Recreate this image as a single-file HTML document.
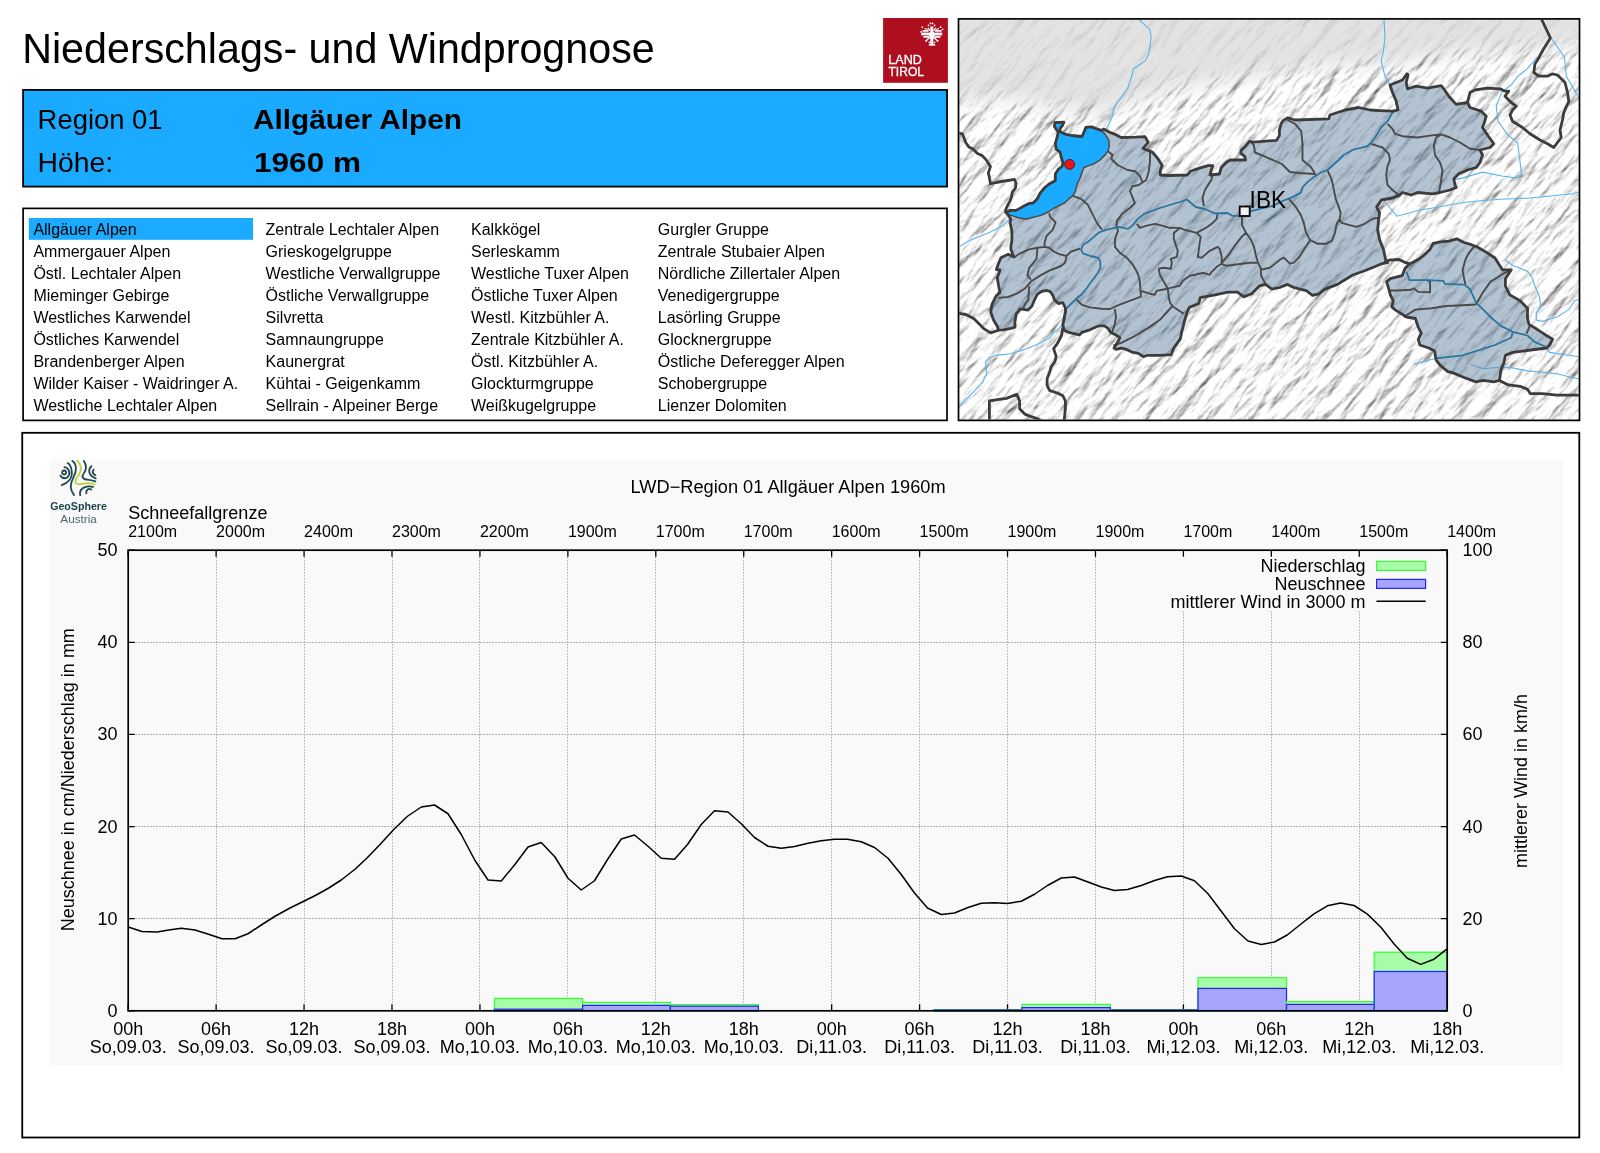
<!DOCTYPE html>
<html><head><meta charset="utf-8"><title>Niederschlags- und Windprognose</title>
<style>
html,body{margin:0;padding:0;background:#fff;width:1600px;height:1153px;overflow:hidden}
svg{display:block;position:absolute;left:0;top:0;will-change:transform}
text{font-family:"Liberation Sans",sans-serif}
</style></head><body>
<svg width="1600" height="1153" viewBox="0 0 1600 1153">
<rect width="1600" height="1153" fill="#fff"/>
<text x="22.2" y="62.6" font-family="Liberation Sans, sans-serif" font-size="42.5" textLength="632.5" lengthAdjust="spacingAndGlyphs">Niederschlags- und Windprognose</text>
<rect x="23.1" y="89.9" width="923.9" height="96.7" fill="#1aaaff" stroke="#000" stroke-width="1.8"/>
<g font-family="Liberation Sans, sans-serif" font-size="28.4" fill="#000"><text x="37.6" y="128.7" textLength="125" lengthAdjust="spacingAndGlyphs">Region 01</text><text x="37.6" y="171.6" textLength="75.5" lengthAdjust="spacingAndGlyphs">Höhe:</text><text x="253" y="128.8" font-weight="bold" textLength="209" lengthAdjust="spacingAndGlyphs">Allgäuer Alpen</text><text x="254" y="171.8" font-weight="bold" textLength="107" lengthAdjust="spacingAndGlyphs">1960 m</text></g>
<rect x="23.1" y="208.4" width="923.9" height="212" fill="#fff" stroke="#000" stroke-width="1.7"/>
<rect x="28.8" y="218" width="224.2" height="21.8" fill="#1aaaff"/>
<g font-family="Liberation Sans, sans-serif" font-size="16" fill="#000"><text x="33.4" y="234.8">Allgäuer Alpen</text><text x="33.4" y="256.8">Ammergauer Alpen</text><text x="33.4" y="278.8">Östl. Lechtaler Alpen</text><text x="33.4" y="300.8">Mieminger Gebirge</text><text x="33.4" y="322.8">Westliches Karwendel</text><text x="33.4" y="344.8">Östliches Karwendel</text><text x="33.4" y="366.8">Brandenberger Alpen</text><text x="33.4" y="388.8">Wilder Kaiser - Waidringer A.</text><text x="33.4" y="410.8">Westliche Lechtaler Alpen</text><text x="265.6" y="234.8">Zentrale Lechtaler Alpen</text><text x="265.6" y="256.8">Grieskogelgruppe</text><text x="265.6" y="278.8">Westliche Verwallgruppe</text><text x="265.6" y="300.8">Östliche Verwallgruppe</text><text x="265.6" y="322.8">Silvretta</text><text x="265.6" y="344.8">Samnaungruppe</text><text x="265.6" y="366.8">Kaunergrat</text><text x="265.6" y="388.8">Kühtai - Geigenkamm</text><text x="265.6" y="410.8">Sellrain - Alpeiner Berge</text><text x="471.0" y="234.8">Kalkkögel</text><text x="471.0" y="256.8">Serleskamm</text><text x="471.0" y="278.8">Westliche Tuxer Alpen</text><text x="471.0" y="300.8">Östliche Tuxer Alpen</text><text x="471.0" y="322.8">Westl. Kitzbühler A.</text><text x="471.0" y="344.8">Zentrale Kitzbühler A.</text><text x="471.0" y="366.8">Östl. Kitzbühler A.</text><text x="471.0" y="388.8">Glockturmgruppe</text><text x="471.0" y="410.8">Weißkugelgruppe</text><text x="657.8" y="234.8">Gurgler Gruppe</text><text x="657.8" y="256.8">Zentrale Stubaier Alpen</text><text x="657.8" y="278.8">Nördliche Zillertaler Alpen</text><text x="657.8" y="300.8">Venedigergruppe</text><text x="657.8" y="322.8">Lasörling Gruppe</text><text x="657.8" y="344.8">Glocknergruppe</text><text x="657.8" y="366.8">Östliche Deferegger Alpen</text><text x="657.8" y="388.8">Schobergruppe</text><text x="657.8" y="410.8">Lienzer Dolomiten</text></g>
<rect x="883.1" y="18" width="64.8" height="64.8" fill="#ae0f1f"/>
<g font-family="Liberation Sans, sans-serif" font-size="12" fill="#fff" stroke="#fff" stroke-width="0.3"><text x="888.3" y="63.9" textLength="33.5" lengthAdjust="spacingAndGlyphs">LAND</text><text x="888.5" y="76.2" textLength="35.5" lengthAdjust="spacingAndGlyphs">TIROL</text></g>
<g transform="translate(918,20)" stroke="#fff" fill="none" stroke-linecap="butt"><path d="M3.2 14H24.2" stroke-width="2.8"/><ellipse cx="13.8" cy="15.5" rx="2.6" ry="4" fill="#fff" stroke="none"/><path d="M4.5 10.8H10.5M17 10.8H23.5M5.5 16.8H11M16.5 16.8H22.5" stroke-width="1.8"/><path d="M13.8 6.5V24.4" stroke-width="3"/><path d="M10.8 24.9H17.2" stroke-width="1.6"/><path d="M11.5 17.5L7.5 21.5M16 17.5L20 21.5M10 7.8L12 11M17.6 7.8L15.6 11M6.5 8.5L9.5 9.5M21 8.5L18 9.5" stroke-width="1.3"/></g>
<g fill="#fff" transform="translate(918,20)"><circle cx="12.5" cy="3.4" r="0.85"/><circle cx="14.6" cy="3.4" r="0.85"/><circle cx="10.5" cy="5.4" r="0.85"/><circle cx="16.6" cy="5.4" r="0.85"/><circle cx="8.3" cy="20.6" r="0.85"/><circle cx="11.4" cy="22.4" r="0.85"/><circle cx="16.5" cy="22.4" r="0.85"/><circle cx="19.6" cy="20.6" r="0.85"/><circle cx="4.3" cy="7.2" r="0.85"/><circle cx="22.6" cy="7.2" r="0.85"/><circle cx="24.6" cy="9.3" r="0.85"/><circle cx="3" cy="11.8" r="0.85"/></g>
<defs><clipPath id="mc"><rect x="959.3" y="19.7" width="619.4" height="399.9"/></clipPath><filter id="hs"><feTurbulence type="fractalNoise" baseFrequency="0.025 0.09" numOctaves="5" seed="7" result="n"/><feDiffuseLighting in="n" surfaceScale="4.5" diffuseConstant="1.2" lighting-color="#ffffff"><feDistantLight azimuth="300" elevation="52"/></feDiffuseLighting></filter><filter id="bl" x="-10%" y="-10%" width="120%" height="120%"><feGaussianBlur stdDeviation="10"/></filter><mask id="mm" maskUnits="userSpaceOnUse" x="958" y="18" width="622" height="403"><path d="M940.0 104.0 L1000.0 98.0 L1050.0 106.0 L1100.0 114.0 L1140.0 100.0 L1180.0 88.0 L1220.0 82.0 L1260.0 76.0 L1300.0 69.0 L1340.0 64.0 L1380.0 66.0 L1420.0 59.0 L1460.0 54.0 L1500.0 52.0 L1540.0 49.0 L1600.0 44.0 L1600.0 440.0 L940.0 440.0Z" fill="#fff" filter="url(#bl)"/></mask></defs>
<g clip-path="url(#mc)">
<rect x="958" y="18" width="622" height="403" fill="#dddddd"/>
<g opacity="0.18"><g transform="translate(1269,220) rotate(-50)"><rect x="-420" y="-420" width="840" height="840" filter="url(#hs)"/></g></g>
<g mask="url(#mm)"><g transform="translate(1269,220) rotate(-50)"><rect x="-420" y="-420" width="840" height="840" filter="url(#hs)"/></g></g>
<path d="M1139.4 20.0 L1150.1 29.7 L1151.1 37.5 L1149.1 53.1 L1145.2 60.9 L1139.4 64.8 L1133.5 68.7 L1131.6 76.5 L1127.7 88.2 L1117.9 101.9 L1114.0 107.7 L1112.1 117.5 L1106.2 129.2" fill="none" stroke="#58b4ec" stroke-width="1.1"/>
<path d="M1384.0 19.0 L1385.0 37.5 L1383.1 53.1 L1381.1 60.9 L1385.0 76.5 L1390.0 85.0" fill="none" stroke="#58b4ec" stroke-width="1.1"/>
<path d="M1550.8 37.5 L1564.4 57.0 L1566.4 76.5 L1572.2 86.3 L1580.0 99.9" fill="none" stroke="#58b4ec" stroke-width="1.1"/>
<path d="M1537.1 57.0 L1527.4 68.7 L1517.6 76.5 L1511.8 84.3 L1502.0 92.1 L1496.2 105.8 L1498.1 121.4 L1507.9 135.0 L1517.6 142.8 L1519.6 158.4 L1521.5 174.0 L1515.7 177.9 L1502.0 176.0 L1482.5 172.1 L1463.0 177.9 L1453.3 179.9" fill="none" stroke="#58b4ec" stroke-width="1.1"/>
<path d="M1383.5 200.5 L1390.0 208.0 L1397.0 216.2 L1420.0 210.0 L1437.7 207.2 L1460.0 203.0 L1482.8 200.5 L1505.0 199.0 L1527.9 198.2 L1550.0 196.0 L1573.0 193.7 L1580.0 191.4" fill="none" stroke="#58b4ec" stroke-width="1.1"/>
<path d="M1062.8 323.7 L1058.9 328.9 L1053.6 332.9 L1049.7 338.1 L1036.6 344.7 L1023.5 349.9 L1010.4 353.8 L997.3 355.1 L989.4 357.8 L985.5 361.7 L986.8 373.5 L982.9 381.3 L975.0 390.5 L965.9 399.7 L958.0 407.5" fill="none" stroke="#58b4ec" stroke-width="1.1"/>
<path d="M1010.7 217.9 L1002.9 225.7 L987.3 233.5 L971.7 239.4 L960.0 246.0" fill="none" stroke="#58b4ec" stroke-width="1.1"/>
<path d="M1545.2 346.5 L1549.6 352.4 L1579.1 356.8" fill="none" stroke="#58b4ec" stroke-width="1.1"/>
<path d="M1436.0 358.3 L1413.9 364.2" fill="none" stroke="#58b4ec" stroke-width="1.1"/>
<path d="M1505.4 260.2 L1512.7 265.4 L1520.1 268.3 L1527.5 271.3 L1531.9 277.2 L1534.9 286.0 L1539.3 296.4 L1540.8 306.7 L1536.3 312.6 L1536.3 320.0 L1542.2 321.4 L1557.0 317.0 L1568.8 309.6 L1574.7 300.8 L1580.0 299.3" fill="none" stroke="#58b4ec" stroke-width="1.1"/>
<path d="M1470.0 364.2 L1483.2 368.6 L1500.9 367.2 L1512.7 367.9 L1527.5 370.9 L1542.2 372.3 L1557.0 373.8 L1571.8 377.5 L1580.0 379.0" fill="none" stroke="#58b4ec" stroke-width="1.1"/>
<path d="M1005.7 212.3 L1010.5 210.4 L1016.2 210.4 L1022.9 206.6 L1028.6 203.7 L1033.4 202.8 L1037.2 199.0 L1040.1 193.2 L1044.8 187.5 L1049.6 183.7 L1055.3 180.8 L1055.3 174.1 L1058.2 169.4 L1062.0 166.5 L1063.0 162.7 L1061.1 157.0 L1060.1 152.2 L1056.3 149.3 L1055.3 143.6 L1057.2 136.9 L1058.2 132.2 L1054.4 126.4 L1054.9 122.6 L1063.9 122.2 L1062.5 125.5 L1060.1 128.4 L1060.1 131.7 L1064.9 134.1 L1071.5 135.5 L1082.0 136.5 L1083.9 132.2 L1085.9 127.4 L1091.6 126.9 L1095.4 128.4 L1101.1 130.3 L1104.0 129.3 L1109.7 132.2 L1114.5 134.1 L1121.1 137.5 L1135.7 137.1 L1145.0 136.6 L1148.2 142.3 L1143.0 148.5 L1150.0 151.1 L1152.8 152.5 L1157.5 158.1 L1162.2 165.6 L1160.3 170.3 L1160.3 175.0 L1168.7 175.5 L1187.5 175.0 L1190.3 171.3 L1198.7 168.4 L1208.1 165.6 L1212.8 165.6 L1210.9 171.3 L1210.0 175.0 L1219.4 174.0 L1221.3 167.5 L1226.9 161.9 L1230.6 160.0 L1245.6 160.0 L1244.7 156.3 L1240.9 153.4 L1240.9 150.6 L1245.6 145.9 L1249.4 141.3 L1253.1 142.2 L1276.6 140.3 L1279.4 135.6 L1279.4 130.0 L1281.3 123.4 L1283.1 120.6 L1287.8 117.8 L1295.0 120.0 L1328.8 118.8 L1330.0 115.0 L1345.0 110.0 L1358.8 107.5 L1370.0 110.0 L1380.0 110.6 L1392.5 111.2 L1398.1 110.0 L1396.2 101.2 L1392.5 92.5 L1390.0 85.0 L1402.5 80.0 L1406.9 73.8 L1408.1 75.0 L1406.2 82.5 L1407.5 88.8 L1416.2 86.2 L1427.5 88.1 L1441.2 85.6 L1443.8 88.8 L1448.8 96.2 L1456.2 104.4 L1467.5 102.5 L1470.0 107.5 L1481.2 111.2 L1486.2 116.2 L1484.4 122.5 L1482.5 127.5 L1487.5 135.0 L1493.8 143.8 L1490.0 147.5 L1480.0 150.0 L1482.5 155.0 L1480.0 162.5 L1476.2 167.5 L1467.5 170.0 L1458.8 173.8 L1453.8 178.8 L1455.0 185.0 L1456.2 187.5 L1450.0 190.0 L1440.0 192.5 L1432.5 193.8 L1417.5 192.5 L1411.2 195.0 L1402.5 192.5 L1398.8 195.6 L1392.0 198.0 L1384.0 199.5 L1381.6 199.9 L1376.6 206.9 L1379.6 212.9 L1378.6 219.8 L1377.6 229.8 L1379.6 239.8 L1383.6 249.8 L1385.6 259.7 L1387.6 262.7 L1381.6 263.7 L1374.6 266.7 L1364.7 270.7 L1352.7 275.0 L1337.5 284.4 L1325.0 289.1 L1318.8 293.8 L1312.5 295.3 L1306.2 290.6 L1300.0 289.1 L1293.8 287.5 L1287.5 284.4 L1279.7 287.5 L1271.9 289.1 L1265.6 284.4 L1259.4 285.9 L1251.6 293.8 L1243.8 296.9 L1237.5 292.2 L1228.1 292.2 L1212.5 295.3 L1200.3 297.6 L1198.7 303.5 L1189.5 307.4 L1186.9 312.7 L1184.3 321.9 L1181.6 332.4 L1180.3 338.9 L1173.8 348.1 L1171.1 354.7 L1160.6 355.3 L1147.5 355.3 L1143.6 356.7 L1138.3 353.4 L1131.8 352.1 L1126.5 349.4 L1121.3 348.1 L1116.0 349.4 L1114.0 348.1 L1118.0 341.6 L1119.9 337.6 L1116.0 335.0 L1110.7 332.4 L1108.1 328.4 L1104.2 325.8 L1098.9 325.8 L1089.8 329.8 L1081.9 332.4 L1079.3 335.0 L1074.0 333.7 L1068.8 332.4 L1064.1 330.2 L1062.8 324.5 L1065.5 311.4 L1065.4 308.0 L1062.8 302.7 L1058.3 303.5 L1054.3 299.6 L1053.0 295.6 L1050.4 291.7 L1046.4 290.4 L1041.2 291.7 L1037.3 294.3 L1034.6 299.6 L1032.0 306.1 L1028.1 310.1 L1020.2 308.8 L1016.2 314.0 L1014.9 321.9 L1014.9 327.1 L1011.0 328.4 L1003.1 329.8 L998.6 330.2 L997.3 326.3 L993.4 319.8 L990.7 311.9 L992.1 304.1 L996.0 296.2 L999.9 292.3 L998.6 285.7 L997.3 277.9 L999.9 270.0 L996.4 269.7 L998.2 264.2 L1000.9 257.8 L1008.2 254.2 L1013.7 256.9 L1010.9 249.6 L1010.9 246.0 L1011.9 240.5 L1011.9 231.4 L1010.0 222.3 L1011.0 219.6 L1007.6 214.2Z M1386.6 281.6 L1390.3 278.7 L1402.1 275.7 L1405.1 268.3 L1409.5 263.9 L1418.3 259.5 L1424.2 255.1 L1430.1 249.2 L1433.1 243.3 L1440.5 241.8 L1449.3 241.1 L1456.7 238.8 L1464.1 242.5 L1471.4 244.7 L1477.3 247.0 L1486.2 252.1 L1495.0 258.0 L1502.4 269.8 L1511.3 269.8 L1505.4 278.7 L1505.4 286.0 L1509.8 294.9 L1520.1 300.8 L1527.5 308.2 L1527.5 318.5 L1529.0 324.4 L1536.3 328.8 L1545.2 334.7 L1552.6 339.1 L1549.6 345.0 L1546.7 348.0 L1534.9 349.5 L1524.5 350.9 L1512.7 352.4 L1505.4 355.4 L1503.9 362.7 L1500.9 370.1 L1499.5 380.4 L1493.6 381.9 L1483.2 380.4 L1475.9 381.9 L1464.1 377.5 L1453.7 373.1 L1447.8 371.6 L1440.5 365.7 L1436.0 359.8 L1434.6 350.9 L1428.7 348.0 L1419.8 345.0 L1418.3 339.1 L1421.3 333.2 L1418.3 327.3 L1415.4 318.5 L1406.5 317.0 L1402.1 314.1 L1394.7 309.6 L1391.8 306.7 L1393.3 300.8 L1390.3 294.9 L1388.8 289.0Z" fill="#6a87a6" fill-opacity="0.5"/>
<path d="M1054.9 122.6 L1063.9 122.2 L1062.5 125.5 L1060.1 128.4 L1060.1 131.7 L1064.9 134.1 L1071.5 135.5 L1082.0 136.5 L1083.9 132.2 L1085.9 127.4 L1091.6 126.9 L1095.4 128.4 L1101.1 130.3 L1104.9 134.1 L1108.7 139.8 L1109.2 146.5 L1107.8 151.2 L1104.9 155.1 L1100.2 159.8 L1094.4 163.6 L1088.7 165.6 L1083.9 167.5 L1082.0 172.2 L1080.1 178.0 L1077.3 183.7 L1075.4 191.3 L1072.5 196.1 L1068.7 198.9 L1064.9 202.8 L1059.1 205.6 L1053.4 208.5 L1047.7 212.3 L1041.0 215.2 L1034.3 217.1 L1026.7 219.0 L1019.1 218.0 L1013.4 216.1 L1007.6 214.2 L1005.7 212.3 L1010.5 210.4 L1016.2 210.4 L1022.9 206.6 L1028.6 203.7 L1033.4 202.8 L1037.2 199.0 L1040.1 193.2 L1044.8 187.5 L1049.6 183.7 L1055.3 180.8 L1055.3 174.1 L1058.2 169.4 L1062.0 166.5 L1063.0 162.7 L1061.1 157.0 L1060.1 152.2 L1056.3 149.3 L1055.3 143.6 L1057.2 136.9 L1058.2 132.2 L1054.4 126.4Z" fill="#1aaaff"/>
<path d="M1072.9 195.8 L1081.1 198.9 L1087.8 204.7 L1091.6 212.3 L1095.4 219.9 L1098.3 225.0 L1102.0 229.6 M1049.2 213.2 L1050.1 216.9 L1055.6 222.3 L1052.8 229.6 L1046.5 236.0 L1044.6 242.4 L1044.6 246.9 M1013.7 257.8 L1020.1 253.3 L1028.3 249.6 L1037.4 247.8 L1044.6 246.9 L1049.2 247.8 L1053.8 251.5 L1059.2 254.2 L1066.5 256.0 L1071.1 251.5 L1080.2 248.7 M1037.4 248.7 L1036.5 258.8 L1029.2 267.9 L1027.3 275.2 L1031.0 279.7 M1066.5 256.9 L1064.7 263.3 L1061.0 266.0 L1049.2 270.6 L1039.2 276.1 L1031.0 281.5 L1024.6 288.8 L1017.3 293.4 L1008.2 297.0 L998.2 297.9 M1029.2 286.1 L1028.3 300.0 L1025.4 303.5 L1022.8 308.8 M1108.1 151.2 L1112.5 155.0 L1111.2 158.8 L1117.5 165.0 L1127.5 170.0 L1135.0 171.2 L1140.0 176.2 L1142.5 182.5 L1138.8 185.0 L1132.5 186.2 L1130.0 191.2 L1132.5 197.5 L1134.9 203.0 L1129.9 208.0 L1121.9 214.0 L1117.0 220.9 L1116.5 225.9 L1118.0 230.9 L1115.0 238.9 L1115.0 246.9 L1119.9 252.8 L1126.9 257.8 L1132.9 264.8 L1137.9 273.8 L1139.9 281.8 L1140.4 289.7 L1140.9 296.7 L1132.9 299.7 L1124.9 302.7 L1117.0 305.7 L1110.0 309.0 L1101.6 308.8 L1089.8 307.4 L1081.9 304.8 L1076.6 299.6 M1142.5 182.5 L1146.2 180.0 L1148.8 171.2 L1150.0 161.2 L1150.0 151.2 M1114.7 308.8 L1116.0 316.6 L1114.7 324.5 L1112.1 332.4 M1113.4 345.5 L1121.2 342.9 L1134.4 336.3 L1147.5 328.4 L1160.6 319.2 L1167.0 312.0 L1172.5 306.2 M1139.9 290.7 L1149.9 293.7 L1154.9 294.7 L1156.8 290.7 L1167.8 288.7 L1168.8 297.5 L1170.0 302.5 L1172.5 306.2 L1178.0 310.0 L1183.8 313.8 M1167.8 288.7 L1163.8 281.8 L1159.8 274.8 L1158.8 268.8 L1163.8 267.8 L1170.8 268.8 L1171.8 262.8 L1170.8 258.8 L1176.8 256.8 L1177.8 250.8 L1175.8 244.9 L1173.8 238.9 L1173.8 232.9 L1179.8 227.9 M1136.9 223.9 L1139.9 227.9 L1145.9 225.9 L1154.9 223.9 L1162.8 225.9 L1169.8 227.9 L1179.8 227.9 L1184.8 229.9 L1196.7 232.9 L1205.7 227.9 L1212.7 222.9 L1216.7 218.9 L1217.7 213.0 M1196.7 232.9 L1200.7 236.9 L1199.7 242.9 L1198.7 250.8 L1197.7 256.8 L1201.7 257.8 L1209.7 250.8 L1217.7 246.9 L1219.7 248.9 L1221.7 256.8 L1221.7 263.8 M1221.7 263.8 L1216.7 266.8 L1211.7 271.8 L1209.7 274.8 L1203.7 272.8 L1194.7 274.8 L1189.8 275.8 L1182.8 280.8 L1179.8 285.8 L1174.8 286.8 L1167.8 288.7 M1221.7 263.8 L1226.7 265.8 L1234.6 264.8 L1241.6 263.8 L1250.0 262.8 L1257.0 262.7 M1221.7 262.8 L1228.7 254.8 L1234.6 245.9 L1241.6 236.9 L1246.0 232.8 M1242.0 216.8 L1242.0 224.8 L1246.0 232.8 L1251.0 239.8 L1254.0 246.8 L1256.0 255.7 L1258.0 262.7 L1260.9 268.7 L1260.9 275.0 L1265.6 284.4 M1203.8 206.2 L1202.5 197.5 L1205.0 190.0 L1211.2 180.0 L1212.5 175.0 M1260.9 269.7 L1269.9 267.7 L1279.9 259.7 L1283.9 257.7 L1289.9 263.7 L1293.9 262.7 L1298.8 257.7 L1303.8 249.8 L1309.8 240.8 M1288.9 198.9 L1295.8 206.9 L1300.8 214.9 L1303.8 222.8 L1305.8 231.8 L1309.8 239.8 L1317.8 243.8 L1325.8 243.8 L1331.8 240.8 L1334.7 233.8 L1336.7 223.8 L1339.7 218.8 L1340.7 212.9 L1338.7 206.9 L1335.7 198.9 L1333.7 188.9 L1331.8 179.9 L1327.8 171.0 M1339.7 219.8 L1341.7 222.8 L1348.7 224.8 L1356.7 226.8 L1364.7 223.8 L1372.6 218.8 L1379.6 217.8 M1250.0 141.2 L1253.8 145.0 L1255.0 152.5 L1263.8 156.2 L1272.9 160.0 L1281.9 164.0 L1289.9 172.0 L1299.8 173.0 L1314.8 174.0 L1316.2 175.0 M1287.5 120.0 L1295.0 123.8 L1301.2 131.2 L1302.5 143.8 L1302.5 160.0 L1310.8 167.0 L1314.8 173.0 M1371.2 143.8 L1382.5 147.5 L1388.8 153.8 L1390.0 160.0 L1387.5 166.2 L1386.2 175.0 L1387.5 185.0 L1392.5 190.0 L1398.8 195.0 M1387.5 123.8 L1392.5 128.8 L1395.0 133.8 L1402.5 136.2 L1417.5 137.5 L1430.0 135.6 L1441.2 134.4 L1450.0 137.5 L1460.0 142.5 L1470.0 148.8 L1480.0 150.0 M1441.2 134.4 L1436.2 137.5 L1433.8 145.0 L1435.0 155.0 L1440.0 162.5 L1442.5 170.0 L1441.2 180.0 L1438.8 193.8 M1474.4 246.2 L1468.5 253.6 L1465.5 259.5 L1462.6 269.8 L1464.1 278.7 L1465.5 284.6 M1389.0 290.5 L1397.7 290.5 L1411.0 289.8 L1413.9 288.3 L1418.3 291.9 L1430.1 292.3 L1430.1 281.6 L1427.2 280.1 M1403.6 317.0 L1415.4 309.6 L1431.6 308.2 L1446.3 306.0 L1462.6 305.2 L1475.9 304.5 M1475.9 304.5 L1483.2 292.0 L1490.6 281.6 L1502.4 274.2 L1511.3 269.8 M1526.6 333.5 L1528.0 330.0 L1530.4 324.4" fill="none" stroke="#4a4a4a" stroke-width="1.9" stroke-linejoin="round"/>
<path d="M1064.1 322.4 L1066.1 308.8 L1071.4 303.5 L1076.6 298.3 L1081.9 294.3 L1087.1 287.8 L1089.8 283.8 L1093.7 278.6 L1097.6 273.3 L1100.3 268.1 L1100.3 261.5 L1098.4 257.8 L1090.2 256.0 L1082.9 253.3 L1081.1 249.6 L1082.9 245.1 L1088.4 241.5 L1093.8 236.9 L1099.3 232.3 L1106.0 229.9 L1118.9 226.9 L1127.9 228.9 L1132.9 224.9 L1137.9 218.9 L1143.9 213.9 L1151.9 211.0 L1159.8 208.0 L1169.8 205.0 L1179.8 202.0 L1186.8 199.5 L1189.8 202.0 L1195.7 207.0 L1204.7 209.0 L1211.7 212.0 L1214.7 213.5 L1227.7 213.0 L1232.6 215.9 L1238.6 215.9 L1250.0 211.4 L1260.0 208.9 L1272.9 205.9 L1282.9 200.9 L1292.9 196.9 L1300.8 192.9 L1302.8 186.9 L1307.8 181.9 L1313.8 177.0 L1321.8 172.0 L1327.8 170.0 L1331.8 166.0 L1338.7 160.0 L1343.8 155.0 L1352.5 150.0 L1367.5 146.2 L1371.2 142.5 L1375.0 137.5 L1381.2 127.5 L1387.5 121.2 L1392.5 112.5 L1397.5 110.0 L1396.2 101.2 L1392.5 92.5 L1390.0 85.0" fill="none" stroke="#2b74a0" stroke-width="1.8" stroke-linejoin="round"/>
<path d="M1406.5 272.0 L1409.5 280.1 L1427.2 280.1 L1443.4 280.9 L1444.9 283.8 L1464.1 284.6 L1470.0 289.0 L1475.9 302.3 L1483.2 309.6 L1492.1 318.5 L1500.9 325.9 L1512.7 331.8 L1527.5 335.5 L1534.9 342.1 L1545.2 346.5" fill="none" stroke="#2b74a0" stroke-width="1.8" stroke-linejoin="round"/>
<path d="M1512.7 331.8 L1511.3 337.7 L1495.0 345.0 L1462.6 355.4 L1436.0 358.3" fill="none" stroke="#2b74a0" stroke-width="1.8" stroke-linejoin="round"/>
<path d="M1054.9 122.6 L1063.9 122.2 L1062.5 125.5 L1060.1 128.4 L1060.1 131.7 L1064.9 134.1 L1071.5 135.5 L1082.0 136.5 L1083.9 132.2 L1085.9 127.4 L1091.6 126.9 L1095.4 128.4 L1101.1 130.3 L1104.9 134.1 L1108.7 139.8 L1109.2 146.5 L1107.8 151.2 L1104.9 155.1 L1100.2 159.8 L1094.4 163.6 L1088.7 165.6 L1083.9 167.5 L1082.0 172.2 L1080.1 178.0 L1077.3 183.7 L1075.4 191.3 L1072.5 196.1 L1068.7 198.9 L1064.9 202.8 L1059.1 205.6 L1053.4 208.5 L1047.7 212.3 L1041.0 215.2 L1034.3 217.1 L1026.7 219.0 L1019.1 218.0 L1013.4 216.1 L1007.6 214.2 L1005.7 212.3 L1010.5 210.4 L1016.2 210.4 L1022.9 206.6 L1028.6 203.7 L1033.4 202.8 L1037.2 199.0 L1040.1 193.2 L1044.8 187.5 L1049.6 183.7 L1055.3 180.8 L1055.3 174.1 L1058.2 169.4 L1062.0 166.5 L1063.0 162.7 L1061.1 157.0 L1060.1 152.2 L1056.3 149.3 L1055.3 143.6 L1057.2 136.9 L1058.2 132.2 L1054.4 126.4Z" fill="none" stroke="#4a4a4a" stroke-width="1.5" stroke-linejoin="round"/>
<path d="M958.0 133.0 L962.3 133.8 L964.0 138.0 L966.0 143.0 L968.8 146.9 L973.0 149.0 L977.5 153.4 L982.0 155.5 L986.2 159.9 L990.5 166.4 L988.4 172.9 L989.5 178.0 L990.5 183.7 L996.0 182.5 L1001.4 181.5 L1008.0 180.5 L1014.4 179.4 L1016.0 183.0 L1015.5 188.0 L1012.2 192.4 L1011.5 197.0 L1010.0 201.1 L1007.5 205.5 L1005.7 209.7 L1005.7 212.3 M958.0 313.2 L965.9 314.5 L973.7 318.5 L979.0 323.7 L984.2 328.9 L990.7 332.9 L998.6 330.2 M1062.8 327.6 L1061.5 335.5 L1057.5 343.3 L1053.6 348.6 L1056.2 356.4 L1054.9 361.7 L1051.0 366.9 L1049.7 372.2 L1047.1 378.7 L1047.1 385.3 L1049.7 390.5 L1057.5 393.1 L1062.8 395.7 L1065.4 401.0 L1065.4 408.8 L1064.1 421.0 M989.4 421.0 L989.4 401.0 L997.3 399.7 L1006.5 398.4 L1013.0 395.7 L1016.9 394.4 L1019.6 401.0 L1019.6 408.8 L1024.8 414.1 L1031.3 416.7 L1039.2 419.3 L1041.8 421.0 M1467.5 102.5 L1470.0 92.5 L1475.0 90.0 L1487.5 88.1 L1500.0 88.8 L1505.0 91.2 L1508.8 91.2 L1505.0 96.2 L1511.2 102.5 L1516.2 106.2 L1512.5 110.0 L1510.0 115.0 L1512.5 121.2 L1522.5 127.5 L1530.0 133.8 L1540.0 140.0 L1547.5 143.8 L1553.8 147.5 L1557.5 142.5 L1561.2 137.5 L1560.0 130.0 L1562.5 120.0 L1563.8 112.5 L1568.8 101.2 L1567.5 92.5 L1565.0 82.5 L1557.5 75.0 L1552.5 73.8 L1547.5 76.2 L1538.8 76.2 L1533.8 72.5 L1535.0 63.8 L1537.5 60.0 L1543.0 50.0 L1550.4 38.0 L1541.4 19.0 M1499.5 380.4 L1508.3 384.9 L1520.1 386.3 L1527.5 389.3 L1530.4 393.7 L1542.2 393.7 L1557.0 395.2 L1580.0 395.2 M1384.4 262.5 L1388.8 260.2 L1399.2 259.5 L1405.1 262.4 L1409.5 263.9" fill="none" stroke="#3c3c3c" stroke-width="2.8" stroke-linejoin="round"/>
<path d="M1005.7 212.3 L1010.5 210.4 L1016.2 210.4 L1022.9 206.6 L1028.6 203.7 L1033.4 202.8 L1037.2 199.0 L1040.1 193.2 L1044.8 187.5 L1049.6 183.7 L1055.3 180.8 L1055.3 174.1 L1058.2 169.4 L1062.0 166.5 L1063.0 162.7 L1061.1 157.0 L1060.1 152.2 L1056.3 149.3 L1055.3 143.6 L1057.2 136.9 L1058.2 132.2 L1054.4 126.4 L1054.9 122.6 L1063.9 122.2 L1062.5 125.5 L1060.1 128.4 L1060.1 131.7 L1064.9 134.1 L1071.5 135.5 L1082.0 136.5 L1083.9 132.2 L1085.9 127.4 L1091.6 126.9 L1095.4 128.4 L1101.1 130.3 L1104.0 129.3 L1109.7 132.2 L1114.5 134.1 L1121.1 137.5 L1135.7 137.1 L1145.0 136.6 L1148.2 142.3 L1143.0 148.5 L1150.0 151.1 L1152.8 152.5 L1157.5 158.1 L1162.2 165.6 L1160.3 170.3 L1160.3 175.0 L1168.7 175.5 L1187.5 175.0 L1190.3 171.3 L1198.7 168.4 L1208.1 165.6 L1212.8 165.6 L1210.9 171.3 L1210.0 175.0 L1219.4 174.0 L1221.3 167.5 L1226.9 161.9 L1230.6 160.0 L1245.6 160.0 L1244.7 156.3 L1240.9 153.4 L1240.9 150.6 L1245.6 145.9 L1249.4 141.3 L1253.1 142.2 L1276.6 140.3 L1279.4 135.6 L1279.4 130.0 L1281.3 123.4 L1283.1 120.6 L1287.8 117.8 L1295.0 120.0 L1328.8 118.8 L1330.0 115.0 L1345.0 110.0 L1358.8 107.5 L1370.0 110.0 L1380.0 110.6 L1392.5 111.2 L1398.1 110.0 L1396.2 101.2 L1392.5 92.5 L1390.0 85.0 L1402.5 80.0 L1406.9 73.8 L1408.1 75.0 L1406.2 82.5 L1407.5 88.8 L1416.2 86.2 L1427.5 88.1 L1441.2 85.6 L1443.8 88.8 L1448.8 96.2 L1456.2 104.4 L1467.5 102.5 L1470.0 107.5 L1481.2 111.2 L1486.2 116.2 L1484.4 122.5 L1482.5 127.5 L1487.5 135.0 L1493.8 143.8 L1490.0 147.5 L1480.0 150.0 L1482.5 155.0 L1480.0 162.5 L1476.2 167.5 L1467.5 170.0 L1458.8 173.8 L1453.8 178.8 L1455.0 185.0 L1456.2 187.5 L1450.0 190.0 L1440.0 192.5 L1432.5 193.8 L1417.5 192.5 L1411.2 195.0 L1402.5 192.5 L1398.8 195.6 L1392.0 198.0 L1384.0 199.5 L1381.6 199.9 L1376.6 206.9 L1379.6 212.9 L1378.6 219.8 L1377.6 229.8 L1379.6 239.8 L1383.6 249.8 L1385.6 259.7 L1387.6 262.7 L1381.6 263.7 L1374.6 266.7 L1364.7 270.7 L1352.7 275.0 L1337.5 284.4 L1325.0 289.1 L1318.8 293.8 L1312.5 295.3 L1306.2 290.6 L1300.0 289.1 L1293.8 287.5 L1287.5 284.4 L1279.7 287.5 L1271.9 289.1 L1265.6 284.4 L1259.4 285.9 L1251.6 293.8 L1243.8 296.9 L1237.5 292.2 L1228.1 292.2 L1212.5 295.3 L1200.3 297.6 L1198.7 303.5 L1189.5 307.4 L1186.9 312.7 L1184.3 321.9 L1181.6 332.4 L1180.3 338.9 L1173.8 348.1 L1171.1 354.7 L1160.6 355.3 L1147.5 355.3 L1143.6 356.7 L1138.3 353.4 L1131.8 352.1 L1126.5 349.4 L1121.3 348.1 L1116.0 349.4 L1114.0 348.1 L1118.0 341.6 L1119.9 337.6 L1116.0 335.0 L1110.7 332.4 L1108.1 328.4 L1104.2 325.8 L1098.9 325.8 L1089.8 329.8 L1081.9 332.4 L1079.3 335.0 L1074.0 333.7 L1068.8 332.4 L1064.1 330.2 L1062.8 324.5 L1065.5 311.4 L1065.4 308.0 L1062.8 302.7 L1058.3 303.5 L1054.3 299.6 L1053.0 295.6 L1050.4 291.7 L1046.4 290.4 L1041.2 291.7 L1037.3 294.3 L1034.6 299.6 L1032.0 306.1 L1028.1 310.1 L1020.2 308.8 L1016.2 314.0 L1014.9 321.9 L1014.9 327.1 L1011.0 328.4 L1003.1 329.8 L998.6 330.2 L997.3 326.3 L993.4 319.8 L990.7 311.9 L992.1 304.1 L996.0 296.2 L999.9 292.3 L998.6 285.7 L997.3 277.9 L999.9 270.0 L996.4 269.7 L998.2 264.2 L1000.9 257.8 L1008.2 254.2 L1013.7 256.9 L1010.9 249.6 L1010.9 246.0 L1011.9 240.5 L1011.9 231.4 L1010.0 222.3 L1011.0 219.6 L1007.6 214.2Z M1386.6 281.6 L1390.3 278.7 L1402.1 275.7 L1405.1 268.3 L1409.5 263.9 L1418.3 259.5 L1424.2 255.1 L1430.1 249.2 L1433.1 243.3 L1440.5 241.8 L1449.3 241.1 L1456.7 238.8 L1464.1 242.5 L1471.4 244.7 L1477.3 247.0 L1486.2 252.1 L1495.0 258.0 L1502.4 269.8 L1511.3 269.8 L1505.4 278.7 L1505.4 286.0 L1509.8 294.9 L1520.1 300.8 L1527.5 308.2 L1527.5 318.5 L1529.0 324.4 L1536.3 328.8 L1545.2 334.7 L1552.6 339.1 L1549.6 345.0 L1546.7 348.0 L1534.9 349.5 L1524.5 350.9 L1512.7 352.4 L1505.4 355.4 L1503.9 362.7 L1500.9 370.1 L1499.5 380.4 L1493.6 381.9 L1483.2 380.4 L1475.9 381.9 L1464.1 377.5 L1453.7 373.1 L1447.8 371.6 L1440.5 365.7 L1436.0 359.8 L1434.6 350.9 L1428.7 348.0 L1419.8 345.0 L1418.3 339.1 L1421.3 333.2 L1418.3 327.3 L1415.4 318.5 L1406.5 317.0 L1402.1 314.1 L1394.7 309.6 L1391.8 306.7 L1393.3 300.8 L1390.3 294.9 L1388.8 289.0Z" fill="none" stroke="#3c3c3c" stroke-width="2.8" stroke-linejoin="round"/>
<circle cx="1069.7" cy="164.4" r="5.0" fill="#e8141c" stroke="#3a1010" stroke-width="0.8"/>
<rect x="1239.7" y="206.5" width="10.0" height="9.5" fill="#f0f0f0" stroke="#000" stroke-width="1.8"/>
<text x="1249.6" y="207.5" font-family="Liberation Sans, sans-serif" font-size="23.5" fill="#000" textLength="36.5" lengthAdjust="spacingAndGlyphs">IBK</text>
</g>
<rect x="958.5" y="18.9" width="621" height="401.5" fill="none" stroke="#000" stroke-width="1.7"/>
<rect x="22.25" y="432.8" width="1557.05" height="704.7" fill="#fff" stroke="#000" stroke-width="1.8"/>
<rect x="50.1" y="460.1" width="1512.9" height="605.9" fill="#f9f9f9"/>
<path d="M216.50 557.2V1003.8M304.50 557.2V1003.8M392.50 557.2V1003.8M479.50 557.2V1003.8M567.50 557.2V1003.8M655.50 557.2V1003.8M743.50 557.2V1003.8M831.50 557.2V1003.8M919.50 557.2V1003.8M1007.50 557.2V1003.8M1095.50 557.2V1003.8M1183.50 557.2V1003.8M1271.50 557.2V1003.8M1359.50 557.2V1003.8" stroke="#a2a2a2" stroke-width="1" stroke-dasharray="1.3 1.7" fill="none"/>
<path d="M135.2 918.50H1440.2M135.2 826.50H1440.2M135.2 734.50H1440.2M135.2 642.50H1440.2" stroke="#a8a8a8" stroke-width="1" stroke-dasharray="1.8 1.2" fill="none"/>
<path d="M128.20 1010.8v-6.5M128.20 550.2v6.5M216.13 1010.8v-6.5M216.13 550.2v6.5M304.07 1010.8v-6.5M304.07 550.2v6.5M392.00 1010.8v-6.5M392.00 550.2v6.5M479.93 1010.8v-6.5M479.93 550.2v6.5M567.87 1010.8v-6.5M567.87 550.2v6.5M655.80 1010.8v-6.5M655.80 550.2v6.5M743.73 1010.8v-6.5M743.73 550.2v6.5M831.67 1010.8v-6.5M831.67 550.2v6.5M919.60 1010.8v-6.5M919.60 550.2v6.5M1007.53 1010.8v-6.5M1007.53 550.2v6.5M1095.47 1010.8v-6.5M1095.47 550.2v6.5M1183.40 1010.8v-6.5M1183.40 550.2v6.5M1271.33 1010.8v-6.5M1271.33 550.2v6.5M1359.27 1010.8v-6.5M1359.27 550.2v6.5M1447.20 1010.8v-6.5M1447.20 550.2v6.5M128.2 1010.80h6.5M1447.2 1010.80h-6.5M128.2 918.68h6.5M1447.2 918.68h-6.5M128.2 826.56h6.5M1447.2 826.56h-6.5M128.2 734.44h6.5M1447.2 734.44h-6.5M128.2 642.32h6.5M1447.2 642.32h-6.5M128.2 550.20h6.5M1447.2 550.20h-6.5" stroke="#000" stroke-width="1.3" fill="none"/>
<rect x="494.4" y="998.4" width="88.2" height="12.4" fill="#a8fca8" stroke="#33ff33" stroke-width="1.2"/>
<rect x="494.4" y="1009.2" width="88.2" height="1.6" fill="#a6a6fc" stroke="#2222ff" stroke-width="1.2"/>
<rect x="582.6" y="1002.4" width="87.8" height="8.4" fill="#a8fca8" stroke="#33ff33" stroke-width="1.2"/>
<rect x="582.6" y="1005.4" width="87.8" height="5.4" fill="#a6a6fc" stroke="#2222ff" stroke-width="1.2"/>
<rect x="670.4" y="1004.6" width="88.0" height="6.2" fill="#a8fca8" stroke="#33ff33" stroke-width="1.2"/>
<rect x="670.4" y="1006.2" width="88.0" height="4.6" fill="#a6a6fc" stroke="#2222ff" stroke-width="1.2"/>
<rect x="934.0" y="1009.6" width="88.0" height="1.2" fill="#a8fca8" stroke="#33ff33" stroke-width="1.2"/>
<rect x="934.0" y="1010.0" width="88.0" height="0.8" fill="#a6a6fc" stroke="#2222ff" stroke-width="1.2"/>
<rect x="1022.0" y="1004.4" width="88.4" height="6.4" fill="#a8fca8" stroke="#33ff33" stroke-width="1.2"/>
<rect x="1022.0" y="1007.6" width="88.4" height="3.2" fill="#a6a6fc" stroke="#2222ff" stroke-width="1.2"/>
<rect x="1110.4" y="1009.6" width="87.6" height="1.2" fill="#a8fca8" stroke="#33ff33" stroke-width="1.2"/>
<rect x="1110.4" y="1010.0" width="87.6" height="0.8" fill="#a6a6fc" stroke="#2222ff" stroke-width="1.2"/>
<rect x="1198.0" y="977.7" width="88.5" height="33.1" fill="#a8fca8" stroke="#33ff33" stroke-width="1.2"/>
<rect x="1198.0" y="988.4" width="88.5" height="22.4" fill="#a6a6fc" stroke="#2222ff" stroke-width="1.2"/>
<rect x="1286.5" y="1001.6" width="87.7" height="9.2" fill="#a8fca8" stroke="#33ff33" stroke-width="1.2"/>
<rect x="1286.5" y="1004.4" width="87.7" height="6.4" fill="#a6a6fc" stroke="#2222ff" stroke-width="1.2"/>
<rect x="1374.2" y="952.2" width="73.0" height="58.6" fill="#a8fca8" stroke="#33ff33" stroke-width="1.2"/>
<rect x="1374.2" y="971.5" width="73.0" height="39.3" fill="#a6a6fc" stroke="#2222ff" stroke-width="1.2"/>
<polyline points="128.25,927.00 142.00,931.50 157.00,932.00 168.75,930.00 181.25,928.25 195.00,930.00 208.50,934.30 222.00,938.75 235.00,938.75 248.00,933.75 261.25,925.00 275.00,916.25 290.00,908.00 303.75,901.25 316.25,895.00 328.75,888.00 341.25,880.00 355.00,869.25 367.50,857.50 380.00,844.50 393.75,829.50 407.50,816.25 421.25,807.00 434.50,805.00 448.00,813.75 461.25,834.50 475.00,860.50 488.00,880.00 501.25,881.00 514.50,865.00 528.00,847.00 541.25,842.50 555.00,857.00 568.00,878.25 581.25,890.00 594.50,880.75 607.50,859.50 621.25,839.00 634.50,835.00 648.00,846.25 661.25,858.25 674.50,859.25 687.50,844.50 701.25,824.50 714.50,810.75 728.00,812.00 741.25,823.75 754.50,837.50 768.00,846.25 781.25,848.25 794.50,846.50 808.00,843.25 821.25,840.75 834.50,839.25 847.50,839.25 861.25,841.75 874.50,847.50 888.00,858.25 901.25,874.50 914.50,893.00 927.50,908.00 941.25,914.50 954.50,913.00 968.00,907.50 981.25,903.25 994.50,902.75 1007.50,903.50 1021.25,901.25 1034.50,894.25 1047.50,885.50 1061.25,878.00 1074.50,877.00 1088.00,882.00 1101.25,887.00 1114.50,890.50 1127.50,889.50 1141.25,885.50 1154.50,880.50 1167.50,876.75 1181.25,876.00 1194.50,880.75 1208.00,893.75 1221.25,911.25 1234.50,928.75 1248.00,941.00 1261.25,944.50 1274.50,942.00 1287.20,935.00 1300.40,924.50 1313.60,914.10 1327.40,905.80 1340.60,903.00 1354.10,905.50 1367.40,914.10 1380.90,927.30 1394.10,944.00 1407.30,958.30 1420.70,964.40 1434.00,959.20 1447.10,948.80" fill="none" stroke="#000" stroke-width="1.5" stroke-linejoin="round"/>
<rect x="128.2" y="550.2" width="1319.0" height="460.6" fill="none" stroke="#000" stroke-width="1.7"/>
<rect x="1166" y="557" width="275" height="53.3" fill="#f9f9f9"/>
<rect x="1376.6" y="561.4" width="49" height="9" fill="#a8fca8" stroke="#33ff33" stroke-width="1.2"/>
<rect x="1376.6" y="579.4" width="49" height="9" fill="#a6a6fc" stroke="#2222ff" stroke-width="1.2"/>
<path d="M1376.5 601.3H1425.7" stroke="#000" stroke-width="1.5"/>
<g font-family="Liberation Sans, sans-serif" font-size="18" fill="#000"><text x="1365.5" y="572.3" text-anchor="end">Niederschlag</text><text x="1365.5" y="589.9" text-anchor="end">Neuschnee</text><text x="1365.5" y="607.6" text-anchor="end">mittlerer Wind in 3000 m</text><text x="630.6" y="492.9" textLength="315" lengthAdjust="spacingAndGlyphs">LWD&#8722;Region 01 Allgäuer Alpen 1960m</text><text x="128.3" y="518.8">Schneefallgrenze</text><text x="117.6" y="1016.7" text-anchor="end">0</text><text x="117.6" y="924.6" text-anchor="end">10</text><text x="117.6" y="832.5" text-anchor="end">20</text><text x="117.6" y="740.3" text-anchor="end">30</text><text x="117.6" y="648.2" text-anchor="end">40</text><text x="117.6" y="556.1" text-anchor="end">50</text><text x="1462.6" y="1016.7">0</text><text x="1462.6" y="924.6">20</text><text x="1462.6" y="832.5">40</text><text x="1462.6" y="740.3">60</text><text x="1462.6" y="648.2">80</text><text x="1462.6" y="556.1">100</text><text x="128.2" y="1034.8" text-anchor="middle">00h</text><text x="128.2" y="1052.5" text-anchor="middle">So,09.03.</text><text x="216.1" y="1034.8" text-anchor="middle">06h</text><text x="216.1" y="1052.5" text-anchor="middle">So,09.03.</text><text x="304.1" y="1034.8" text-anchor="middle">12h</text><text x="304.1" y="1052.5" text-anchor="middle">So,09.03.</text><text x="392.0" y="1034.8" text-anchor="middle">18h</text><text x="392.0" y="1052.5" text-anchor="middle">So,09.03.</text><text x="479.9" y="1034.8" text-anchor="middle">00h</text><text x="479.9" y="1052.5" text-anchor="middle">Mo,10.03.</text><text x="567.9" y="1034.8" text-anchor="middle">06h</text><text x="567.9" y="1052.5" text-anchor="middle">Mo,10.03.</text><text x="655.8" y="1034.8" text-anchor="middle">12h</text><text x="655.8" y="1052.5" text-anchor="middle">Mo,10.03.</text><text x="743.7" y="1034.8" text-anchor="middle">18h</text><text x="743.7" y="1052.5" text-anchor="middle">Mo,10.03.</text><text x="831.7" y="1034.8" text-anchor="middle">00h</text><text x="831.7" y="1052.5" text-anchor="middle">Di,11.03.</text><text x="919.6" y="1034.8" text-anchor="middle">06h</text><text x="919.6" y="1052.5" text-anchor="middle">Di,11.03.</text><text x="1007.5" y="1034.8" text-anchor="middle">12h</text><text x="1007.5" y="1052.5" text-anchor="middle">Di,11.03.</text><text x="1095.5" y="1034.8" text-anchor="middle">18h</text><text x="1095.5" y="1052.5" text-anchor="middle">Di,11.03.</text><text x="1183.4" y="1034.8" text-anchor="middle">00h</text><text x="1183.4" y="1052.5" text-anchor="middle">Mi,12.03.</text><text x="1271.3" y="1034.8" text-anchor="middle">06h</text><text x="1271.3" y="1052.5" text-anchor="middle">Mi,12.03.</text><text x="1359.3" y="1034.8" text-anchor="middle">12h</text><text x="1359.3" y="1052.5" text-anchor="middle">Mi,12.03.</text><text x="1447.2" y="1034.8" text-anchor="middle">18h</text><text x="1447.2" y="1052.5" text-anchor="middle">Mi,12.03.</text><text transform="translate(73.8,779.7) rotate(-90)" text-anchor="middle">Neuschnee in cm/Niederschlag in mm</text><text transform="translate(1527.4,781) rotate(-90)" text-anchor="middle">mittlerer Wind in km/h</text></g>
<g font-family="Liberation Sans, sans-serif" font-size="16" fill="#000"><text x="128.2" y="536.9" text-anchor="start">2100m</text><text x="216.1" y="536.9" text-anchor="start">2000m</text><text x="304.1" y="536.9" text-anchor="start">2400m</text><text x="392.0" y="536.9" text-anchor="start">2300m</text><text x="479.9" y="536.9" text-anchor="start">2200m</text><text x="567.9" y="536.9" text-anchor="start">1900m</text><text x="655.8" y="536.9" text-anchor="start">1700m</text><text x="743.7" y="536.9" text-anchor="start">1700m</text><text x="831.7" y="536.9" text-anchor="start">1600m</text><text x="919.6" y="536.9" text-anchor="start">1500m</text><text x="1007.5" y="536.9" text-anchor="start">1900m</text><text x="1095.5" y="536.9" text-anchor="start">1900m</text><text x="1183.4" y="536.9" text-anchor="start">1700m</text><text x="1271.3" y="536.9" text-anchor="start">1400m</text><text x="1359.3" y="536.9" text-anchor="start">1500m</text><text x="1447.2" y="536.9" text-anchor="start">1400m</text></g>
<g transform="translate(45,455) scale(0.06072)" fill="none" stroke-linecap="round"><path d="M315 255 a33 33 0 1 0 0.1 0" stroke="#21474f" stroke-width="30"/><path d="M255 340 C280 395 370 405 398 320 C412 260 372 205 320 200" stroke="#21474f" stroke-width="30"/><path d="M275 495 C380 460 455 380 440 270 C430 185 400 145 372 135" stroke="#21474f" stroke-width="30"/><path d="M450 100 C525 145 525 265 470 365 C420 455 400 565 478 660" stroke="#21474f" stroke-width="30"/><path d="M640 100 C692 165 682 250 640 300 C600 352 612 402 700 405 C762 410 800 425 832 437" stroke="#21474f" stroke-width="30"/><path d="M765 185 C700 245 722 345 835 385" stroke="#21474f" stroke-width="30"/><path d="M800 240 C770 272 790 322 830 332" stroke="#21474f" stroke-width="30"/><path d="M580 662 C558 572 640 492 792 525" stroke="#21474f" stroke-width="30"/><path d="M680 632 C670 572 722 542 762 567" stroke="#21474f" stroke-width="30"/><path d="M530 90 C602 152 610 252 560 322 C492 402 470 482 562 482 C652 472 742 442 817 487" stroke="#c0d23a" stroke-width="30"/></g><text x="50.2" y="510.3" font-family="Liberation Sans, sans-serif" font-size="11.6" font-weight="bold" fill="#1e454e" textLength="56.7" lengthAdjust="spacingAndGlyphs">GeoSphere</text><text x="60.3" y="522.6" font-family="Liberation Sans, sans-serif" font-size="10.8" fill="#4b6a71" textLength="36.6" lengthAdjust="spacingAndGlyphs">Austria</text>
</svg>
</body></html>
